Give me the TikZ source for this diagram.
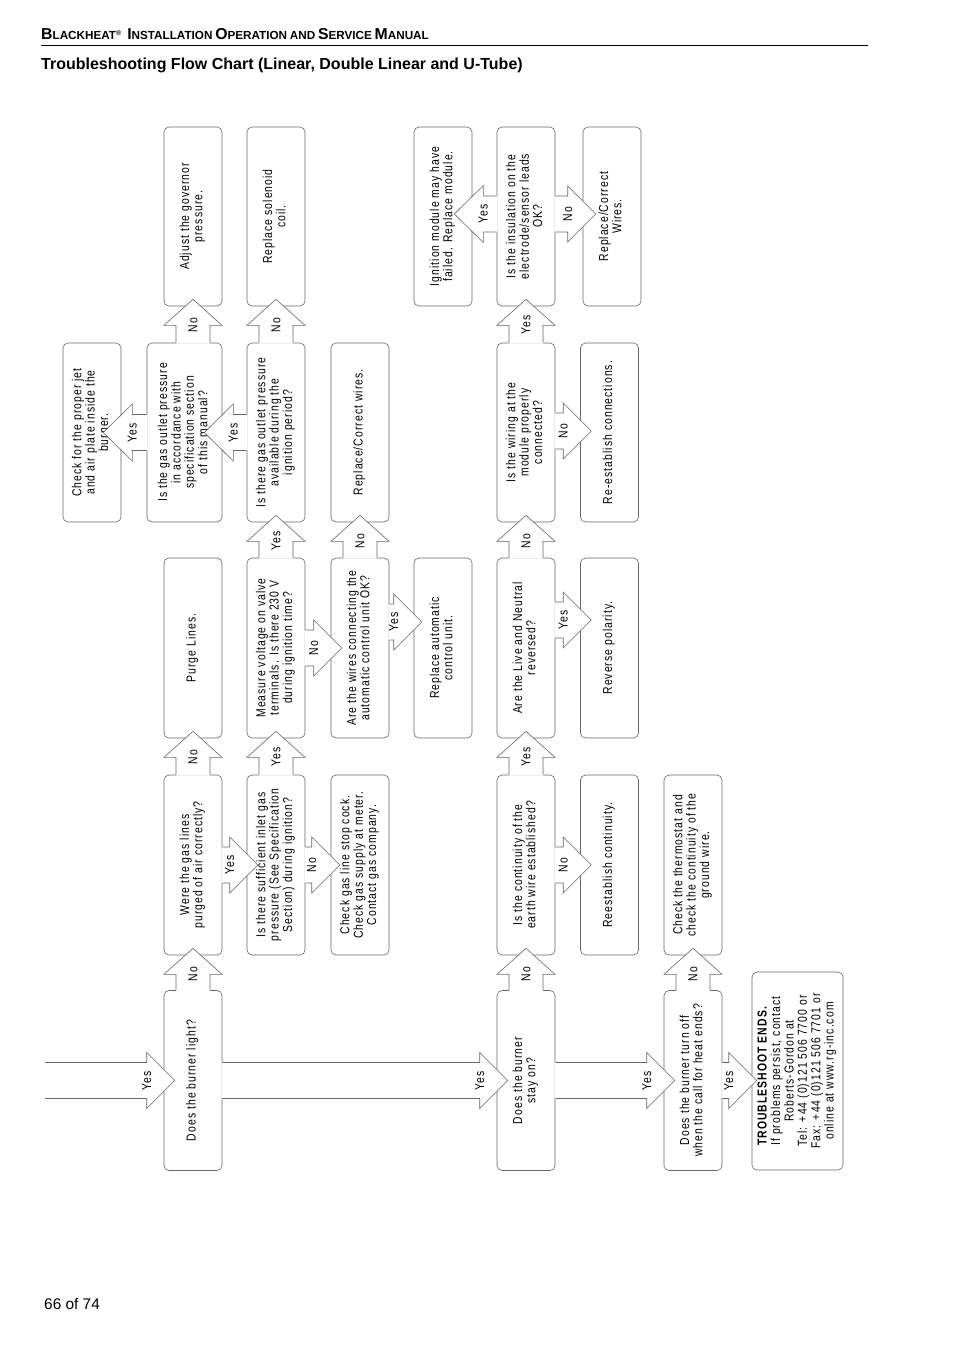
\documentclass[tikz,border=0pt]{standalone}
\usepackage{fontspec}
\setmainfont{Liberation Sans}
\newfontfamily\chartfont[FakeStretch=0.8,LetterSpace=8]{Liberation Sans}
\usetikzlibrary{calc}
\definecolor{linegray}{HTML}{666666}

% rotated, centred text for the boxes
\newcommand{\vtext}[1]{\rotatebox{90}{\begin{tabular}{@{}c@{}}#1\end{tabular}}}
% fake small caps for the running head
\newcommand{\fsc}[2]{{\fontsize{15.8}{18}\selectfont #1}{\fontsize{11.7}{14}\selectfont #2}}

% block arrow going right: from, to, y shift, depth of tip, label
\newcommand{\flowright}[5]{%
  \coordinate (s) at ($(#1.east)+(0,#3)$);
  \coordinate (t) at ($(#2.west |- s)+(#4,0)$);
  \coordinate (h) at ($(t)+(-28,0)$);
  \fill[white] ($(s)+(-1,-18)$) -- ($(h)+(0,-18)$) -- ($(h)+(0,-28)$) -- (t)
    -- ($(h)+(0,28)$) -- ($(h)+(0,18)$) -- ($(s)+(-1,18)$) -- cycle;
  \draw[blockarrow] ($(s)+(0,-18)$) -- ($(h)+(0,-18)$) -- ($(h)+(0,-28)$) -- (t)
    -- ($(h)+(0,28)$) -- ($(h)+(0,18)$) -- ($(s)+(0,18)$);
  \node[lbl] (#1-#2) at (h) {#5};}
% block arrow going left: from, to, y shift, label
\newcommand{\flowleft}[4]{%
  \coordinate (s) at ($(#1.west)+(0,#3)$);
  \coordinate (t) at ($(#2.east |- s)+(-18,0)$);
  \coordinate (h) at ($(t)+(29,0)$);
  \fill[white] ($(s)+(1,-18)$) -- ($(h)+(0,-18)$) -- ($(h)+(0,-28.5)$) -- (t)
    -- ($(h)+(0,28.5)$) -- ($(h)+(0,18)$) -- ($(s)+(1,18)$) -- cycle;
  \draw[blockarrow] ($(s)+(0,-18)$) -- ($(h)+(0,-18)$) -- ($(h)+(0,-28.5)$) -- (t)
    -- ($(h)+(0,28.5)$) -- ($(h)+(0,18)$) -- ($(s)+(0,18)$);
  \node[lbl] (#1-#2) at (h) {#4};}
% block arrow going up: from, to, label
\newcommand{\flowup}[3]{%
  \coordinate (s) at (#2.south |- #1.north);
  \coordinate (t) at ($(#2.south)+(0,-7)$);
  \coordinate (h) at ($(t)+(0,26)$);
  \fill[white] ($(s)+(-17,1)$) -- ($(h)+(-17,0)$) -- ($(h)+(-29,0)$) -- (t)
    -- ($(h)+(29,0)$) -- ($(h)+(17,0)$) -- ($(s)+(17,1)$) -- cycle;
  \draw[blockarrow] ($(s)+(-17,0)$) -- ($(h)+(-17,0)$) -- ($(h)+(-29,0)$) -- (t)
    -- ($(h)+(29,0)$) -- ($(h)+(17,0)$) -- ($(s)+(17,0)$);
  \node[lbl] (#1-#2) at (h) {#3};}

\begin{document}
\begin{tikzpicture}[x=1pt,y=-1pt,
  flowbox/.style={draw=linegray,line width=0.6pt,rounded corners=5pt,inner sep=0pt,
    minimum width=58pt,minimum height=180pt,font=\chartfont\fontsize{13}{13.3}\selectfont},
  blockarrow/.style={draw=linegray,line width=0.6pt},
  lbl/.style={inner sep=0pt,rotate=90,font=\chartfont\fontsize{13}{13.3}\selectfont}]
  \useasboundingbox (0,0) rectangle (954,1350);
  \fill[white] (0,0) rectangle (954,1350);

  % page head
  \node[anchor=base west,inner sep=0pt,font=\bfseries] (header) at (41,39)
    {\fsc{B}{LACKHEAT}\textsuperscript{\fontsize{7}{8}\selectfont ®}\ \ \fsc{I}{NSTALLATION} \fsc{O}{PERATION} {\fontsize{11.7}{14}\selectfont AND} \fsc{S}{ERVICE} \fsc{M}{ANUAL}};
  \draw[line width=0.8pt] (41,45) -- (868,45);
  \node[anchor=base west,inner sep=0pt,font=\bfseries\fontsize{16}{19}\selectfont] (title) at (41,69)
    {Troubleshooting Flow Chart (Linear, Double Linear and U-Tube)};
  \node[anchor=base west,inner sep=0pt,font=\fontsize{15.4}{18}\selectfont] (pageno) at (44,1309) {66 of 74};

  % bottom row
  \node[inner sep=0pt,minimum size=0pt] (feed) at (45,1080.5) {};
  \node[flowbox] (light) at (193,1080.5) {\vtext{Does the burner light?}};
  \node[flowbox] (stayon) at (526,1080.5) {\vtext{Does the burner\\ stay on?}};
  \node[flowbox] (turnoff) at (693,1080.5) {\vtext{Does the burner turn off\\ when the call for heat ends?}};
  \node[flowbox,minimum width=91pt,minimum height=198pt] (ends) at (797.5,1071)
    {\vtext{\rlap{\bfseries TROUBLESHOOT ENDS.}\phantom{If problems persist, contact}\\
      If problems persist, contact\\ Roberts-Gordon at\\ Tel: +44 (0)121 506 7700 or\\
      Fax: +44 (0)121 506 7701 or\\ online at www.rg-inc.com}};

  % second row
  \node[flowbox] (purged) at (193,865) {\vtext{Were the gas lines\\ purged of air correctly?}};
  \node[flowbox] (inlet) at (276,865) {\vtext{Is there sufficient inlet gas\\ pressure (See Specification\\ Section) during ignition?}};
  \node[flowbox] (stopcock) at (360,865) {\vtext{Check gas line stop cock.\\ Check gas supply at meter.\\ Contact gas company.}};
  \node[flowbox] (earth) at (526,865) {\vtext{Is the continuity of the\\ earth wire established?}};
  \node[flowbox] (recont) at (609.5,865) {\vtext{Reestablish continuity.}};
  \node[flowbox] (thermo) at (693,865) {\vtext{Check the thermostat and\\ check the continuity of the\\ ground wire.}};

  % third row
  \node[flowbox] (purge) at (193,648) {\vtext{Purge Lines.}};
  \node[flowbox] (voltage) at (276,648) {\vtext{Measure voltage on valve\\ terminals. Is there 230 V\\ during ignition time?}};
  \node[flowbox] (wiresok) at (360,648) {\vtext{Are the wires connecting the\\ automatic control unit OK?}};
  \node[flowbox] (acu) at (443,648) {\vtext{Replace automatic\\ control unit.}};
  \node[flowbox] (liveneutral) at (526,648) {\vtext{Are the Live and Neutral\\ reversed?}};
  \node[flowbox] (reverse) at (609.5,648) {\vtext{Reverse polarity.}};

  % fourth row
  \node[flowbox,minimum height=179pt] (jet) at (92,432.5) {\vtext{Check for the proper jet\\ and air plate inside the\\ burner.}};
  \node[flowbox,minimum height=179pt,minimum width=75pt] (accord) at (184.5,432.5) {\vtext{Is the gas outlet pressure\\ in accordance with\\ specification section\\ of this manual?}};
  \node[flowbox,minimum height=179pt] (outlet) at (276,432.5) {\vtext{Is there gas outlet pressure\\ available during the\\ ignition period?}};
  \node[flowbox,minimum height=179pt] (rewire) at (360,432.5) {\vtext{Replace/Correct wires.}};
  \node[flowbox,minimum height=179pt] (wiring) at (526,432.5) {\vtext{Is the wiring at the\\ module properly\\ connected?}};
  \node[flowbox,minimum height=179pt] (reconn) at (609.5,432.5) {\vtext{Re-establish connections.}};

  % top row
  \node[flowbox,minimum height=179pt] (governor) at (193,216.5) {\vtext{Adjust the governor\\ pressure.}};
  \node[flowbox,minimum height=179pt] (solenoid) at (276,216.5) {\vtext{Replace solenoid\\ coil.}};
  \node[flowbox,minimum height=179pt] (ignition) at (443,216.5) {\vtext{Ignition module may have\\ failed. Replace module.}};
  \node[flowbox,minimum height=179pt] (insulation) at (526,216.5) {\vtext{Is the insulation on the\\ electrode/sensor leads\\ OK?}};
  \node[flowbox,minimum height=179pt] (rewires) at (612,216.5) {\vtext{Replace/Correct\\ Wires.}};

  % connectors
  \flowright{feed}{light}{0}{11}{Yes}
  \flowright{light}{stayon}{0}{11}{Yes}
  \flowright{stayon}{turnoff}{0}{11}{Yes}
  \flowright{turnoff}{ends}{0}{5}{Yes}
  \flowup{light}{purged}{No}
  \flowright{purged}{inlet}{0}{11}{Yes}
  \flowup{purged}{purge}{No}
  \flowright{inlet}{stopcock}{0}{9}{No}
  \flowup{inlet}{voltage}{Yes}
  \flowright{voltage}{wiresok}{0}{11}{No}
  \flowup{voltage}{outlet}{Yes}
  \flowup{outlet}{solenoid}{No}
  \flowleft{outlet}{accord}{0}{Yes}
  \flowup{accord}{governor}{No}
  \flowleft{accord}{jet}{0}{Yes}
  \flowup{wiresok}{rewire}{No}
  \flowright{wiresok}{acu}{-26}{8}{Yes}
  \flowup{stayon}{earth}{No}
  \flowright{earth}{recont}{0}{11}{No}
  \flowup{earth}{liveneutral}{Yes}
  \flowright{liveneutral}{reverse}{-28}{11}{Yes}
  \flowup{liveneutral}{wiring}{No}
  \flowright{wiring}{reconn}{-1.5}{11}{No}
  \flowup{wiring}{insulation}{Yes}
  \flowleft{insulation}{ignition}{-2.5}{Yes}
  \flowright{insulation}{rewires}{-2.5}{13}{No}
  \flowup{turnoff}{thermo}{No}
\end{tikzpicture}
\end{document}
